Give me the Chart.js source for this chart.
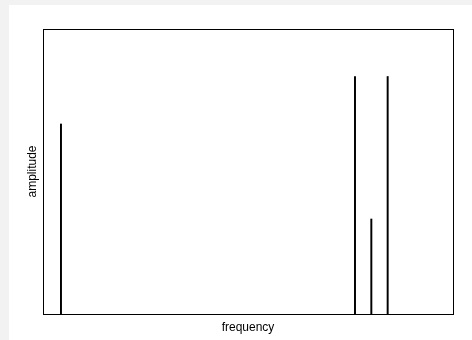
<!DOCTYPE html>
<html>
<head>
<meta charset="utf-8">
<script src="https://cdn.jsdelivr.net/npm/chart.js@4/dist/chart.umd.min.js"></script>
<style>
  html, body { margin: 0; padding: 0; background: #f2f2f2; width: 472px; height: 340px; overflow: hidden; }
  #wrap { position: absolute; left: 9px; top: 5px; width: 463px; height: 335px; background: #ffffff; }
  canvas { display: block; }
</style>
</head>
<body>
<div id="wrap"><canvas id="c" width="463" height="335"></canvas></div>
<script>
// Data
const frequencies = [4, 22, 23, 24];
const amplitudes = [4, 5, 2, 5];
const xLabel = 'frequency';
const yLabel = 'amplitude';
const xRange = [2.9, 28];
const yRange = [0, 6];

const boxPlugin = {
  id: 'box',
  afterDraw(chart) {
    const a = chart.chartArea, ctx = chart.ctx;
    ctx.save();
    ctx.strokeStyle = '#000';
    ctx.lineWidth = 1;
    ctx.strokeRect(Math.round(a.left) + 0.5, Math.round(a.top) + 0.5, Math.round(a.right - a.left), Math.round(a.bottom - a.top));
    ctx.restore();
  }
};

new Chart(document.getElementById('c'), {
  type: 'bar',
  data: {
    datasets: [{
      data: frequencies.map((f, i) => ({ x: f, y: amplitudes[i] })),
      backgroundColor: '#000',
      borderWidth: 0,
      barThickness: 1.3
    }]
  },
  options: {
    responsive: false,
    animation: false,
    events: [],
    layout: { padding: { left: 0, right: 19, top: 24, bottom: 0 } },
    plugins: { legend: { display: false }, tooltip: { enabled: false } },
    scales: {
      x: {
        type: 'linear', min: xRange[0], max: xRange[1], offset: false,
        grid: { display: false }, border: { display: false },
        ticks: { display: false },
        title: { display: true, text: xLabel, color: '#000', font: { family: 'Liberation Sans, Arial, sans-serif', size: 12 }, padding: { top: 0, bottom: 5 } },
        afterFit(s) { s.height = 26; }
      },
      y: {
        type: 'linear', min: yRange[0], max: yRange[1],
        grid: { display: false }, border: { display: false },
        ticks: { display: false },
        title: { display: true, text: yLabel, color: '#000', font: { family: 'Liberation Sans, Arial, sans-serif', size: 12 }, padding: { top: 16, bottom: 0 } },
        afterFit(s) { s.width = 34; }
      }
    }
  },
  plugins: [boxPlugin]
});
</script>
</body>
</html>
